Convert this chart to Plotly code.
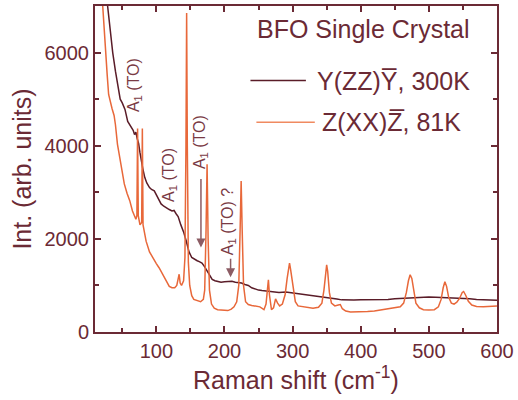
import plotly.graph_objects as go

# 300K, Y(ZZ)Y-bar spectrum
x_300 = [27, 30, 33, 36, 40, 44, 47, 50, 54, 58, 62, 66, 68, 70, 72, 74, 76, 78, 80, 83,
         86, 90, 93, 97, 100, 104, 107, 111, 115, 119, 123, 126, 129, 132, 136, 140, 144,
         148, 152, 156, 160, 163, 167, 171, 174, 178, 182, 186, 190, 195, 200, 206, 211,
         216, 220, 225, 230, 235, 240, 245, 250, 255, 260, 265, 270, 280, 290, 300, 310,
         320, 330, 340, 350, 356, 365, 372, 381, 390, 400, 410, 420, 430, 440, 450, 460,
         470, 479, 490, 500, 510, 520, 530, 540, 550, 560, 570, 580, 590, 600]
y_300 = [7200, 6800, 6350, 6000, 5600, 5250, 5000, 4920, 4780, 4520, 4420, 4330, 4240, 4290,
         4150, 4050, 3850, 3650, 3520, 3320, 3200, 3100, 3060, 3030, 2940, 2830, 2750, 2700,
         2660, 2630, 2600, 2610, 2540, 2480, 2300, 2150, 1950, 1720, 1600, 1560, 1530, 1510,
         1480, 1400, 1330, 1220, 1130, 1100, 1080, 1070, 1080, 1080, 1090, 1070, 1060, 1050,
         1020, 1000, 950, 920, 900, 890, 880, 870, 860, 850, 860, 840, 830, 810, 790, 770,
         750, 740, 710, 690, 680, 685, 690, 690, 695, 690, 700, 715, 725, 735, 740, 745, 750,
         745, 740, 740, 735, 730, 715, 700, 690, 685, 680]

# 81K, Z(XX)Z-bar spectrum
x_81 = [20, 22, 24, 26, 28, 30, 32, 35, 38, 40, 43, 46, 49, 53, 57, 61, 65, 68, 70, 71.5,
        72.5, 73.5, 75, 76, 78.5, 79.5, 80.5, 82, 85, 90, 95, 100, 104, 110, 115, 119, 123,
        127, 130, 132, 133.5, 135, 137, 140, 142, 143.5, 144.5, 145.5, 147, 149, 152, 155,
        160, 165, 169, 171, 173, 174.5, 176, 178, 181, 185, 190, 195, 200, 205, 210, 214,
        218, 221, 223, 224.5, 226, 228, 231, 235, 240, 246, 252, 258, 261, 263, 264.5, 266,
        269, 272, 275, 278, 281, 285, 289, 292, 294, 295.5, 297, 300, 304, 308, 315, 322,
        330, 338, 343, 346, 348.5, 350, 351.5, 354, 357, 362, 367, 370, 373, 378, 385, 392,
        400, 410, 420, 430, 440, 450, 458, 463, 467, 470, 472.5, 475, 478, 481, 486, 492,
        500, 508, 514, 518, 521, 523.5, 526, 529, 533, 537, 541, 545, 549, 551, 554, 558,
        563, 570, 580, 590, 600]
y_81 = [7300, 6800, 6350, 6000, 5500, 5100, 4950, 4800, 4650, 4450, 4030, 3750, 3500, 3180,
        2980, 2820, 2600, 2460, 2420, 2500, 4370, 2500, 2350, 2300, 2350, 4370, 2300, 2150,
        1950, 1720, 1580, 1470, 1380, 1230, 1110, 980, 950, 950, 1000, 1150, 1240, 1050, 1000,
        1100, 1600, 4000, 6850, 4000, 1500, 1000, 780, 700, 670, 650, 700, 900, 2200, 3600,
        2000, 900, 600, 510, 480, 470, 460, 460, 490, 540, 650, 1000, 2200, 3240, 2200, 1000,
        650, 590, 570, 550, 540, 480, 600, 900, 1120, 800, 480, 520, 710, 620, 560, 600, 800,
        1150, 1420, 1480, 1350, 1000, 650, 560, 540, 520, 510, 530, 620, 900, 1300, 1440,
        1300, 850, 620, 560, 580, 590, 500, 450, 430, 430, 440, 440, 450, 470, 500, 510, 540,
        620, 850, 1100, 1230, 1150, 850, 620, 520, 480, 470, 480, 540, 700, 950, 1080, 980,
        750, 620, 600, 640, 720, 850, 870, 790, 660, 580, 550, 540, 550, 560]

x_ticks = [100, 200, 300, 400, 500, 600]
y_ticks = [0, 2000, 4000, 6000]

MAROON = "#6b2a35"
DARK = "#5a1c28"
ORANGE = "#e8683a"
ARROW = "#8c5c64"
FONT = "Liberation Sans, Arial, sans-serif"

fig = go.Figure()
fig.add_trace(go.Scatter(x=x_300, y=y_300, mode="lines", line=dict(color=DARK, width=1.5),
                         showlegend=False))
fig.add_trace(go.Scatter(x=x_81, y=y_81, mode="lines", line=dict(color=ORANGE, width=1.5),
                         showlegend=False))

axis_common = dict(showline=True, linecolor=MAROON, linewidth=2, mirror="allticks",
                   ticks="inside", ticklen=6, tickwidth=1.5, tickcolor=MAROON,
                   showgrid=False, zeroline=False,
                   tickfont=dict(family=FONT, size=20, color=MAROON))

fig.update_xaxes(range=[10, 600], tickvals=x_ticks,
                 minor=dict(dtick=50, tick0=0, ticks="inside", ticklen=4, tickcolor=MAROON, showgrid=False),
                 title=dict(text="Raman shift (cm<sup>-1</sup>)", standoff=5,
                            font=dict(family=FONT, size=25, color=MAROON)),
                 **axis_common)
fig.update_yaxes(range=[0, 7000], tickvals=y_ticks,
                 minor=dict(dtick=1000, tick0=0, ticks="inside", ticklen=4, tickcolor=MAROON, showgrid=False),
                 title=dict(text="Int. (arb. units)", standoff=6,
                            font=dict(family=FONT, size=25, color=MAROON)),
                 **axis_common)

def px2paper(px, py):
    return (px - 95) / 406, (332 - py) / 328

# Legend (manual)
legend_items = [
    ("Y(ZZ)Y\u0305, 300K", DARK, 252, 308, 79, 317),
    ("Z(XX)Z\u0305, 81K", "#f08a60", 258, 317, 121, 322),
]
annotations = []
shapes = []
tx, ty = px2paper(366, 27)
annotations.append(dict(text="BFO Single Crystal", x=tx, y=ty, xref="paper", yref="paper",
                        showarrow=False, xanchor="center", yanchor="middle",
                        font=dict(family=FONT, size=25, color=MAROON)))
for text, col, x0, x1, yy, xt in legend_items:
    a0, b0 = px2paper(x0, yy)
    a1, _ = px2paper(x1, yy)
    shapes.append(dict(type="line", xref="paper", yref="paper", x0=a0, x1=a1, y0=b0, y1=b0,
                       line=dict(color=col, width=1.5)))
    at, bt = px2paper(xt, yy)
    annotations.append(dict(text=text, x=at, y=bt, xref="paper", yref="paper", showarrow=False,
                            xanchor="left", yanchor="middle",
                            font=dict(family=FONT, size=25, color=MAROON)))

# Mode labels
labels = [("A<sub>1</sub> (TO)", 68, 5292), ("A<sub>1</sub> (TO)", 120, 3372),
          ("A<sub>1</sub> (TO)", 164, 4076), ("A<sub>1</sub> (TO) ?", 206, 2369)]
for text, lx, ly in labels:
    annotations.append(dict(text=text, x=lx, y=ly, xref="x", yref="y", showarrow=False,
                            textangle=-90, xanchor="center", yanchor="middle",
                            font=dict(family=FONT, size=16, color="#7a3a44")))
arrows = [(165.5, 1814, -70), (209, 1174, -20)]
for ax_, ay_, off in arrows:
    annotations.append(dict(text="", x=ax_, y=ay_, xref="x", yref="y", showarrow=True,
                            ax=0, ay=off, arrowhead=2, arrowsize=1.2, arrowwidth=1.5,
                            arrowcolor=ARROW))

fig.update_layout(width=518, height=400, margin=dict(l=95, r=17, t=4, b=68),
                  paper_bgcolor="white", plot_bgcolor="white",
                  annotations=annotations, shapes=shapes, showlegend=False)

fig.write_html("out.html")
